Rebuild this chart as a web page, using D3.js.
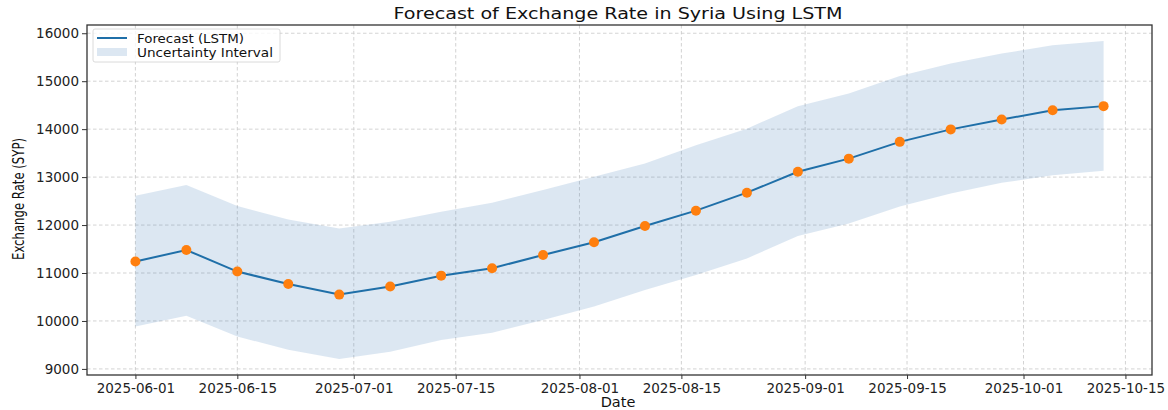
<!DOCTYPE html>
<html>
<head>
<meta charset="utf-8">
<script src="https://cdn.jsdelivr.net/npm/d3@7"></script>
<style>
  body { margin: 0; background: #fff; }
  svg { display: block; font-family: "DejaVu Sans", sans-serif; }
</style>
</head>
<body>
<svg id="chart" width="1168" height="410"></svg>
<script>
const dates = ["2025-06-01","2025-06-08","2025-06-15","2025-06-22","2025-06-29","2025-07-06","2025-07-13","2025-07-20","2025-07-27","2025-08-03","2025-08-10","2025-08-17","2025-08-24","2025-08-31","2025-09-07","2025-09-14","2025-09-21","2025-09-28","2025-10-05","2025-10-12"];
const forecast = [11240, 11480, 11030, 10770, 10550, 10720, 10945, 11100, 11375, 11640, 11980, 12300, 12675, 13110, 13385, 13735, 13995, 14200, 14395, 14480];
const upper = [12610, 12835, 12395, 12115, 11930, 12070, 12280, 12465, 12730, 13005, 13285, 13665, 14010, 14480, 14745, 15110, 15370, 15575, 15750, 15840];
const lower = [9885, 10110, 9675, 9400, 9205, 9360, 9605, 9755, 10020, 10300, 10645, 10960, 11305, 11770, 12035, 12385, 12660, 12880, 13040, 13130];
const xTickLabels = ["2025-06-01","2025-06-15","2025-07-01","2025-07-15","2025-08-01","2025-08-15","2025-09-01","2025-09-15","2025-10-01","2025-10-15"];
const yTickLabels = [9000, 10000, 11000, 12000, 13000, 14000, 15000, 16000];

const parse = d3.utcParse("%Y-%m-%d");
const data = dates.map((d, i) => ({ date: parse(d), v: forecast[i], lo: lower[i], hi: upper[i] }));

const svg = d3.select("#chart");
const L = 87, R = 1152, T = 25, B = 375;

// matplotlib-like 5% margins
const x0 = data[0].date, x1 = data[data.length - 1].date;
const span = x1 - x0;
const x = d3.scaleUtc().domain([new Date(+x0 - span * 0.05), new Date(+x1 + span * 0.05)]).range([L, R]);
const yMin = d3.min(lower), yMax = d3.max(upper), yr = yMax - yMin;
const y = d3.scaleLinear().domain([yMin - yr * 0.05, yMax + yr * 0.05]).range([B, T]);

const xTicks = xTickLabels.map(parse);

// grid
const grid = svg.append("g");
grid.selectAll(".gx").data(xTicks).join("line")
  .attr("x1", d => x(d)).attr("x2", d => x(d)).attr("y1", T).attr("y2", B)
  .attr("stroke", "#c8c8c8").attr("stroke-width", 0.8).attr("stroke-dasharray", "3.5,2.5");
grid.selectAll(".gy").data(yTickLabels).join("line")
  .attr("x1", L).attr("x2", R).attr("y1", d => y(d)).attr("y2", d => y(d))
  .attr("stroke", "#c8c8c8").attr("stroke-width", 0.8).attr("stroke-dasharray", "3.5,2.5");

// band
const area = d3.area().x(d => x(d.date)).y0(d => y(d.lo)).y1(d => y(d.hi));
svg.append("path").datum(data).attr("d", area).attr("fill", "#2f6eb0").attr("fill-opacity", 0.17);

// line
const line = d3.line().x(d => x(d.date)).y(d => y(d.v));
svg.append("path").datum(data).attr("d", line).attr("fill", "none").attr("stroke", "#1f6fa8").attr("stroke-width", 2);

// markers
svg.selectAll(".pt").data(data).join("circle")
  .attr("cx", d => x(d.date)).attr("cy", d => y(d.v)).attr("r", 5).attr("fill", "#ff7f0e");

// axes
const xAxis = d3.axisBottom(x).tickValues(xTicks).tickFormat(d3.utcFormat("%Y-%m-%d")).tickSizeOuter(0).tickSize(4).tickPadding(4);
const gx = svg.append("g").attr("transform", `translate(0,${B})`).call(xAxis);
gx.select(".domain").remove();
gx.selectAll("text").attr("font-size", 13.5).attr("font-family", "DejaVu Sans").attr("fill", "#222");
gx.selectAll("line").attr("stroke", "#333");

const yAxis = d3.axisLeft(y).tickValues(yTickLabels).tickFormat(d3.format("d")).tickSizeOuter(0).tickSize(5).tickPadding(3);
const gy = svg.append("g").attr("transform", `translate(${L},0)`).call(yAxis);
gy.select(".domain").remove();
gy.selectAll("text").attr("font-size", 13.5).attr("font-family", "DejaVu Sans").attr("fill", "#222");
gy.selectAll("line").attr("stroke", "#333");

// frame
svg.append("rect").attr("x", L).attr("y", T).attr("width", R - L).attr("height", B - T)
  .attr("fill", "none").attr("stroke", "#333").attr("stroke-width", 1.3);

// title
svg.append("text").attr("x", 618).attr("y", 19).attr("text-anchor", "middle")
  .attr("font-size", 16).attr("fill", "#111")
  .attr("textLength", 449).attr("lengthAdjust", "spacingAndGlyphs")
  .text("Forecast of Exchange Rate in Syria Using LSTM");

// axis labels
svg.append("text").attr("x", 618).attr("y", 407).attr("text-anchor", "middle")
  .attr("font-size", 14.5).attr("fill", "#111").text("Date");
svg.append("text").attr("transform", "translate(24,199) rotate(-90)").attr("text-anchor", "middle")
  .attr("font-size", 16.5).attr("fill", "#111")
  .attr("textLength", 122).attr("lengthAdjust", "spacingAndGlyphs")
  .text("Exchange Rate (SYP)");

// legend
const lg = svg.append("g");
lg.append("rect").attr("x", 93).attr("y", 29).attr("width", 187).attr("height", 33).attr("rx", 2)
  .attr("fill", "#fff").attr("fill-opacity", 0.8).attr("stroke", "#d0d0d0").attr("stroke-width", 0.8);
lg.append("line").attr("x1", 97).attr("x2", 127).attr("y1", 38).attr("y2", 38)
  .attr("stroke", "#1f6fa8").attr("stroke-width", 2);
lg.append("rect").attr("x", 97).attr("y", 48).attr("width", 30).attr("height", 8)
  .attr("fill", "#2f6eb0").attr("fill-opacity", 0.17);
lg.append("text").attr("x", 137).attr("y", 42.5).attr("font-size", 12.5).attr("fill", "#111")
  .attr("textLength", 107).attr("lengthAdjust", "spacingAndGlyphs").text("Forecast (LSTM)");
lg.append("text").attr("x", 137).attr("y", 56.5).attr("font-size", 12.5).attr("fill", "#111")
  .attr("textLength", 136).attr("lengthAdjust", "spacingAndGlyphs").text("Uncertainty Interval");
</script>
</body>
</html>
